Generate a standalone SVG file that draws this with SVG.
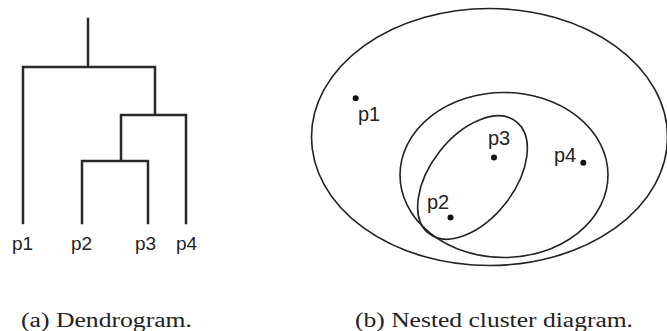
<svg xmlns="http://www.w3.org/2000/svg" width="667" height="331" viewBox="0 0 667 331">
<style>
.ln{fill:none;stroke:#2a2a2a;stroke-width:2.5;stroke-linecap:square}
.el{fill:none;stroke:#222;stroke-width:1.6}
.lb{font-family:"Liberation Sans",Arial,sans-serif;font-size:19px;fill:#222}
.lb2{font-family:"Liberation Sans",Arial,sans-serif;font-size:20px;fill:#222}
.cap{font-family:"Liberation Serif","Times New Roman",serif;font-size:20px;fill:#222}
.dot{fill:#111}
</style>
<rect width="667" height="331" fill="#fff"/>
<g id="connectors">
<path class="ln" d="M88 19V67M23 67H155M23 67V223M155 67V115M121 115H186M186 115V223M121 115V161M82 161H148M82 161V223M148 161V223"/>
</g>
<g id="dendro-labels">
<text class="lb" x="12" y="250">p1</text>
<text class="lb" x="71" y="250">p2</text>
<text class="lb" x="135" y="250">p3</text>
<text class="lb" x="176" y="250">p4</text>
</g>
<g id="cluster-outer"><ellipse class="el" cx="489.5" cy="137" rx="178" ry="128.5"/></g>
<g id="cluster-middle"><ellipse class="el" cx="504" cy="175" rx="104" ry="82.5"/></g>
<g id="cluster-inner"><ellipse class="el" cx="472.5" cy="177.5" rx="71" ry="42" transform="rotate(-52 472.5 177.5)"/></g>
<g id="p1"><circle class="dot" cx="355.7" cy="98.3" r="3"/><text class="lb2" x="358" y="121">p1</text></g>
<g id="p2"><circle class="dot" cx="450.5" cy="217.5" r="3"/><text class="lb2" x="427" y="209">p2</text></g>
<g id="p3"><circle class="dot" cx="494" cy="157.5" r="3"/><text class="lb2" x="488" y="145">p3</text></g>
<g id="p4"><circle class="dot" cx="583.3" cy="162.7" r="3"/><text class="lb2" x="554" y="162">p4</text></g>
<text class="cap" x="21" y="327" textLength="171" lengthAdjust="spacingAndGlyphs">(a) Dendrogram.</text>
<text class="cap" x="355" y="327" textLength="278" lengthAdjust="spacingAndGlyphs">(b) Nested cluster diagram.</text>
</svg>
